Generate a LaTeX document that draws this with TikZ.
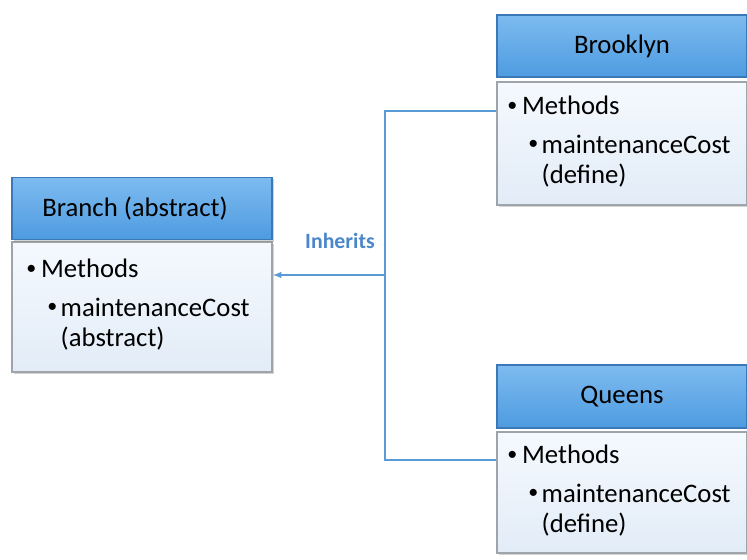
\documentclass[tikz,border=0pt]{standalone}
\usepackage{fontspec}
\setmainfont{Carlito}
\usepackage{tikz}
\usetikzlibrary{arrows}
\usetikzlibrary{shadows,calc}

\definecolor{hdrtop}{HTML}{7DBBF0}
\definecolor{hdrbot}{HTML}{4E9BE0}
\definecolor{hdrline}{HTML}{3B78B8}
\definecolor{bodytop}{HTML}{F5F9FE}
\definecolor{bodybot}{HTML}{E2ECF7}
\definecolor{bodyline}{HTML}{9FA4AA}
\definecolor{linkblue}{HTML}{5B9BD5}
\definecolor{inhtext}{HTML}{4A86C8}

\newcommand{\dotb}{\raisebox{0.3ex}{\scalebox{0.75}{\textbullet}}}
\newcommand{\bodytxt}[1]{\makebox[10.5pt][l]{\dotb}Methods\\[6.5pt]
	\hspace*{15pt}\makebox[9.5pt][l]{\dotb}maintenanceCost\\
	\hspace*{24.5pt}(#1)}

\begin{document}
\begin{tikzpicture}[x=0.025cm,y=-0.025cm,
	hdrbox/.style={rectangle, top color=hdrtop, bottom color=hdrbot, draw=hdrline, line width=1pt, minimum width=6.5cm, minimum height=1.56cm, inner sep=0pt, font=\fontsize{19}{22}\selectfont},
	bodybox/.style={rectangle, top color=bodytop, bottom color=bodybot, draw=bodyline, line width=1.2pt, minimum width=6.5cm, inner sep=0pt, drop shadow={shadow xshift=1.5pt, shadow yshift=-1.5pt, opacity=0.35}},
	bodytext/.style={anchor=north west, inner sep=0pt, align=left, font=\fontsize{19}{21}\selectfont},
	conn/.style={draw=linkblue, line width=1.1pt}]
	\clip (0,0) rectangle (747,559);
	
	% abstract class
	\node[bodybox, minimum height=3.25cm] (brbody) at (142,307) {};
	\node[hdrbox, drop shadow={shadow xshift=1.5pt, shadow yshift=-1.5pt, opacity=0.35}] (brhead) at (142,208.5) {\hspace*{-10pt}Branch (abstract)};
	\node[bodytext] (brtext) at (26,259) {\bodytxt{abstract}};
	
	% subclasses
	\node[bodybox, minimum width=6.25cm, minimum height=3.07cm] (bkbody) at (622,143.5) {};
	\node[hdrbox, minimum width=6.25cm, minimum height=1.55cm] (bkhead) at (622,46) {Brooklyn};
	\node[bodytext] (bktext) at (507,96) {\bodytxt{define}};
	
	\node[bodybox, minimum width=6.25cm, minimum height=3.02cm] (qnbody) at (622,492.5) {};
	\node[hdrbox, minimum width=6.25cm, minimum height=1.57cm] (qnhead) at (622,396.5) {Queens};
	\node[bodytext] (qntext) at (507,445) {\bodytxt{define}};
	
	% inheritance
	\coordinate (bkin) at (bkbody.west |- 0,111);
	\coordinate (qnin) at (qnbody.west |- 0,460);
	\coordinate (jtop) at (385,111);
	\coordinate (jbot) at (385,460);
	\coordinate (jmid) at (385,275);
	\draw[conn] (bkin) -- (jtop) -- (jbot) -- (qnin);
	\draw[conn,-latex] (jmid) -- (brbody.east |- jmid);
	\node[text=inhtext, font=\fontsize{15.5}{18}\selectfont\bfseries] (inh) at (340,241) {Inherits};
	
\end{tikzpicture}
\end{document}
